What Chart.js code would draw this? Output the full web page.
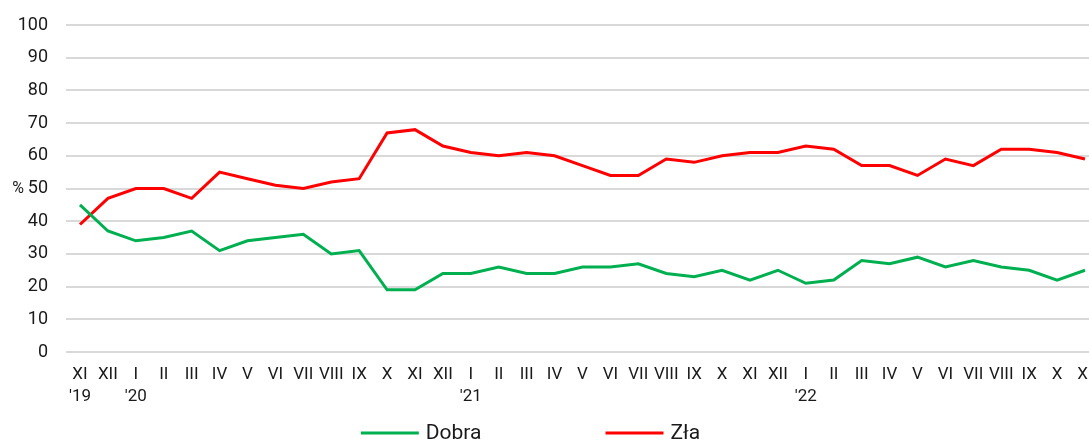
<!DOCTYPE html>
<html>
<head>
<meta charset="utf-8">
<script src="https://cdn.jsdelivr.net/npm/chart.js@4/dist/chart.umd.min.js"></script>
<style>
  html, body { margin: 0; padding: 0; background: #fff; overflow: hidden; }
  #wrap { width: 1089px; height: 441px; position: relative; }
</style>
</head>
<body>
<div id="wrap"><canvas id="c"></canvas></div>
<script>
const months = ['XI','XII','I','II','III','IV','V','VI','VII','VIII','IX','X',
                'XI','XII','I','II','III','IV','V','VI','VII','VIII','IX','X',
                'XI','XII','I','II','III','IV','V','VI','VII','VIII','IX','X','XI'];
const yearMarks = {0: "'19", 2: "'20", 14: "'21", 26: "'22"};
const dobra = [45,37,34,35,37,31,34,35,36,30,31,19,19,24,24,26,24,24,26,26,27,24,23,25,22,25,21,22,28,27,29,26,28,26,25,22,25];
const zla   = [39,47,50,50,47,55,53,51,50,52,53,67,68,63,61,60,61,60,57,54,54,59,58,60,61,61,63,62,57,57,54,59,57,62,62,61,59];
const yTicks = [0,10,20,30,40,50,60,70,80,90,100];

const labels = months.map((m, i) => yearMarks[i] ? [m, yearMarks[i]] : [m, '']);

Chart.defaults.font.family = 'Roboto, "Liberation Sans", sans-serif';
Chart.defaults.color = '#1a1a1a';

const percentPlugin = {
  id: 'percentLabel',
  afterDraw(chart) {
    const y = chart.scales.y.getPixelForValue(50);
    const ctx = chart.ctx;
    ctx.save();
    ctx.font = '16px Roboto';
    ctx.fillStyle = '#1a1a1a';
    ctx.textAlign = 'right';
    ctx.textBaseline = 'middle';
    ctx.fillText('%', 24, y);
    ctx.restore();
  }
};

// extend the horizontal grid lines to the right edge of the canvas
const gridExtend = {
  id: 'gridExtend',
  beforeDatasetsDraw(chart) {
    const ys = chart.scales.y;
    const ctx = chart.ctx;
    ctx.save();
    ctx.strokeStyle = '#d9d9d9';
    ctx.lineWidth = 2;
    ys.ticks.forEach(t => {
      const y = Math.round(ys.getPixelForValue(t.value));
      ctx.beginPath();
      ctx.moveTo(chart.chartArea.right, y);
      ctx.lineTo(chart.width, y);
      ctx.stroke();
    });
    ctx.restore();
  }
};

// legend drawn on the canvas from the datasets (spacing like the original)
const bottomLegend = {
  id: 'bottomLegend',
  afterDraw(chart) {
    const ctx = chart.ctx;
    const ds = chart.data.datasets;
    const lineLen = 58, gap = 7, itemGap = 124;
    ctx.save();
    ctx.font = '21px Roboto';
    const widths = ds.map(d => ctx.measureText(d.label).width);
    let total = 0;
    widths.forEach((w, i) => { total += lineLen + gap + w + (i < widths.length - 1 ? itemGap : 0); });
    let x = chart.width / 2 - total / 2 - 14;
    const y = chart.height - 8;
    ds.forEach((d, i) => {
      ctx.strokeStyle = d.borderColor;
      ctx.lineWidth = 3;
      ctx.beginPath();
      ctx.moveTo(x, y);
      ctx.lineTo(x + lineLen, y);
      ctx.stroke();
      ctx.fillStyle = '#1a1a1a';
      ctx.textAlign = 'left';
      ctx.textBaseline = 'middle';
      ctx.fillText(d.label, x + lineLen + gap, y + 1);
      x += lineLen + gap + widths[i] + itemGap;
    });
    ctx.restore();
  }
};

new Chart(document.getElementById('c'), {
  type: 'line',
  data: {
    labels: labels,
    datasets: [
      { label: 'Dobra', data: dobra, borderColor: '#00b050', backgroundColor: '#00b050',
        borderWidth: 3, pointRadius: 0, tension: 0 },
      { label: 'Zła', data: zla, borderColor: '#ff0000', backgroundColor: '#ff0000',
        borderWidth: 3, pointRadius: 0, tension: 0 }
    ]
  },
  options: {
    responsive: true,
    maintainAspectRatio: false,
    animation: false,
    layout: { padding: { top: 25, left: 0, right: 4, bottom: 37 } },
    plugins: {
      tooltip: { enabled: false },
      legend: { display: false }
    },
    scales: {
      x: {
        offset: false,
        grid: { display: false },
        border: { display: false },
        afterFit(scale) { scale.height = 52; scale.paddingLeft = 0; scale.paddingRight = 0; },
        ticks: { autoSkip: false, maxRotation: 0, minRotation: 0, padding: 4,
                 font: { size: 17, lineHeight: 1.3 } }
      },
      y: {
        min: 0, max: 100,
        afterBuildTicks(scale) { scale.ticks = yTicks.map(v => ({ value: v })); },
        afterFit(scale) { scale.width = 80; scale.paddingTop = 0; scale.paddingBottom = 0; },
        grid: { color: '#d9d9d9', lineWidth: 2, drawTicks: true, tickLength: 14 },
        border: { display: false },
        ticks: { padding: 18, font: { size: 18 } }
      }
    }
  },
  plugins: [percentPlugin, gridExtend, bottomLegend]
});
</script>
</body>
</html>
